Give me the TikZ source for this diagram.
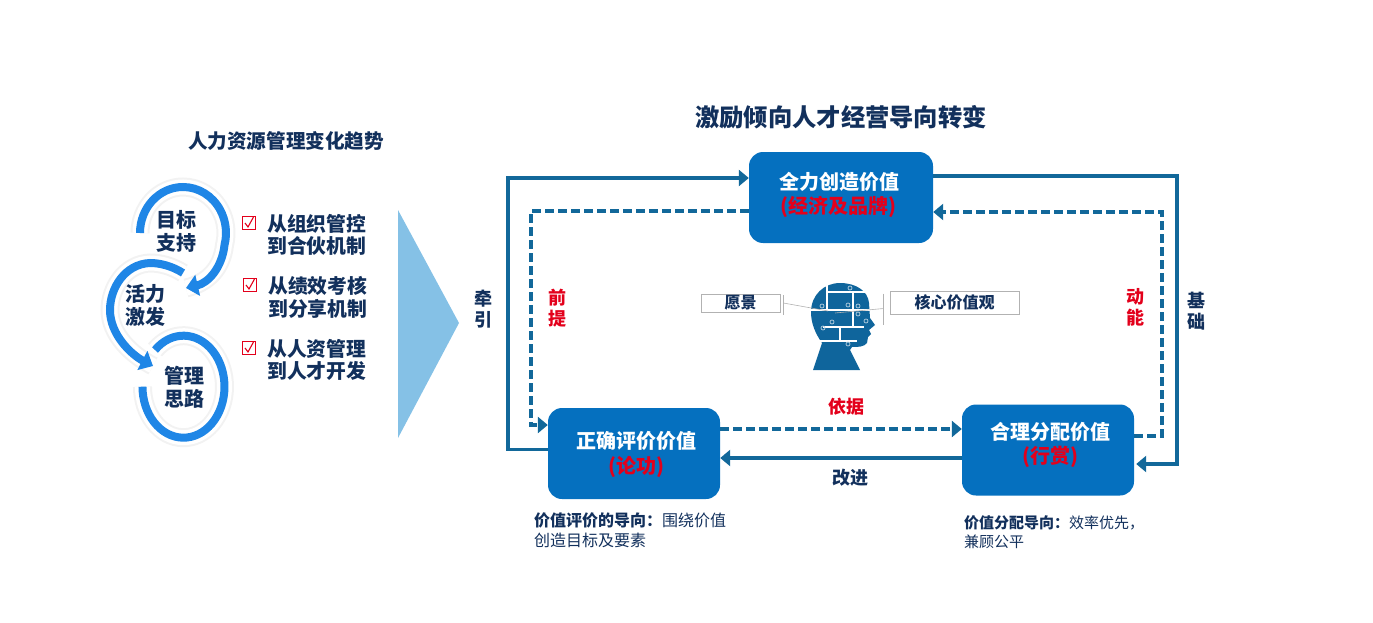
\documentclass[tikz,border=0pt]{standalone}
\usepackage{fontspec}
\setmainfont{Noto Sans CJK SC}
\usetikzlibrary{arrows.meta}
\definecolor{navy}{HTML}{12305C}
\definecolor{linkblue}{HTML}{12689A}
\definecolor{boxblue}{HTML}{0570BF}
\definecolor{ringblue}{HTML}{1F86E6}
\definecolor{keyred}{HTML}{E3001B}
\definecolor{tripale}{HTML}{85C1E6}
\definecolor{headblue}{HTML}{0F659C}
\newcommand{\fs}[1]{\fontsize{#1}{#1}\selectfont}
\tikzset{
    valuebox/.style={fill=boxblue,rounded corners=14pt,minimum width=172pt,minimum height=91pt,inner sep=0pt},
    valuetext/.style={text=white,font=\fs{20}\bfseries,align=center,inner sep=0pt},
    heading/.style={text=navy,font=\bfseries,inner sep=0pt},
    ringlabel/.style={text=navy,font=\fs{20}\bfseries,align=center,inner sep=0pt},
    tick/.style={draw=keyred,line width=0.9pt,minimum size=13pt,inner sep=0pt},
    trend/.style={text=navy,font=\fs{19.8}\bfseries,align=left,inner sep=0pt,anchor=west},
    vlabel/.style={font=\fs{18}\bfseries,align=center,inner sep=0pt},
    note/.style={text=navy,font=\fs{16},align=left,inner sep=0pt,anchor=north west},
    tag/.style={draw=black!30,line width=0.7pt,text=navy,font=\fs{16}\bfseries,inner sep=0pt},
    leader/.style={draw=black!30,line width=0.6pt},
    solidlink/.style={draw=linkblue,line width=3.2pt,-{Triangle[length=10pt,width=16pt]}},
    dashlink/.style={solidlink,dash pattern=on 9pt off 4pt},
    halo/.style={draw=black!5,line width=19pt},
    haloin/.style={draw=white,line width=15pt},
    ring/.style={draw=ringblue,line width=8pt},
}
\begin{document}
\begin{tikzpicture}[x=1pt,y=-1pt]
    \useasboundingbox (0,0) rectangle (1373,623);
    % left titles
    \node[heading,font=\fs{19.6}\bfseries] (lefttitle) at (286,141) {人力资源管理变化趋势};
    \node[heading,font=\fs{24.3}\bfseries] (righttitle) at (841,117) {激励倾向人才经营导向转变};
    % rings
    \foreach \style in {halo,haloin}
        \draw[\style] (140,233) arc[start angle=180,end angle=375,x radius=43,y radius=46] .. controls (222,268) and (208,283) .. (186,288);
    \draw[ring,-{Triangle[length=12pt,width=21pt]}] (140,233) arc[start angle=180,end angle=375,x radius=43,y radius=46] .. controls (222,268) and (208,283) .. (186,288);
    \foreach \style in {halo,haloin}
        \draw[\style] (183,273) .. controls (172,266) and (160,263) .. (150,263) .. controls (125,264) and (110,288) .. (110,310) .. controls (110,335) and (132,355) .. (153,366);
    \draw[ring,-{Triangle[length=12pt,width=21pt]}] (183,273) .. controls (172,266) and (160,263) .. (150,263) .. controls (125,264) and (110,288) .. (110,310) .. controls (110,335) and (132,355) .. (153,366);
    \foreach \style in {halo,haloin,ring}
        \draw[\style] (155,350) arc[start angle=-134,end angle=180,x radius=41,y radius=51];
    \node[ringlabel] (goal) at (176,231) {目标\\[3pt]支持};
    \node[ringlabel] (vigor) at (145,305) {活力\\[3pt]激发};
    \node[ringlabel] (mind) at (184,387) {管理\\[3pt]思路};
    % trend list
    \node[tick] (tick1) at (248.5,223) {};
    \node[tick] (tick2) at (249.5,285) {};
    \node[tick] (tick3) at (248.5,348) {};
    \foreach \n in {1,2,3}
        \draw[keyred,line width=1.1pt] ([shift={(-3.5pt,0pt)}]tick\n.center) -- ([shift={(-0.5pt,-4pt)}]tick\n.center) -- ([shift={(5pt,6pt)}]tick\n.center);
    \node[trend] (trend1) at (267,235) {从组织管控\\[3pt]到合伙机制};
    \node[trend] (trend2) at (268,297) {从绩效考核\\[3pt]到分享机制};
    \node[trend] (trend3) at (267,360) {从人资管理\\[3pt]到人才开发};
    % big arrow
    \fill[tripale] (398,210) -- (459,323) -- (398,438) -- cycle;
    % value boxes
    \node[valuebox,minimum width=184pt] (create) at (841,197.5) {};
    \node[valuebox] (assess) at (634,453.5) {};
    \node[valuebox] (share) at (1048,450) {};
    \node[valuetext] (createtext) at (839,195) {全力创造价值\\[4.5pt]\textcolor{keyred}{(经济及品牌)\kern1pt}};
    \node[valuetext] (assesstext) at (636,454.5) {正确评价价值\\[4.5pt]\textcolor{keyred}{(论功)}};
    \node[valuetext] (sharetext) at (1050,445) {合理分配价值\\[4.5pt]\textcolor{keyred}{(行赏)}};
    % links
    \draw[solidlink] ([yshift=4pt]assess.west) -- (508,449.5) -- (508,178) -- ([yshift=19.5pt]create.west);
    \draw[dashlink] ([yshift=-13.5pt]create.west) -- (531,211) -- (531,425) -- ([yshift=28.5pt]assess.west);
    \draw[solidlink] ([yshift=21.5pt]create.east) -- (1177,176) -- (1177,464) -- ([yshift=-14pt,xshift=2pt]share.east);
    \draw[dashlink] ([yshift=14pt]share.east) -- (1162,436) -- (1162,212) -- ([yshift=-14.5pt]create.east);
    \draw[dashlink] ([yshift=24.5pt]assess.east) -- ([yshift=21pt]share.west);
    \draw[solidlink] ([yshift=-8pt]share.west) -- ([yshift=-4.5pt]assess.east);
    % link labels
    \node[vlabel,text=navy] (pull) at (483,309) {牵\\[3pt]引};
    \node[vlabel,text=keyred] (premise) at (557,308) {前\\[3pt]提};
    \node[vlabel,text=keyred] (power) at (1135,307) {动\\[3pt]能};
    \node[vlabel,text=navy] (base) at (1196,311) {基\\[3pt]础};
    \node[vlabel,text=keyred] (basis) at (846,407) {依据};
    \node[vlabel,text=navy] (improve) at (850,478) {改进};
    % notes
    \node[note] (assessnote) at (534,513) {\textbf{价值评价的导向：}围绕价值\\[4pt]创造目标及要素};
    \node[note,font=\fs{15}] (sharenote) at (964,515) {\textbf{价值分配导向：}效率优先，\\[4pt]兼顾公平};
    % head
    \fill[headblue] (813,370) -- (822,343) .. controls (815,333) and (811,323) .. (811,312) .. controls (811,295) and (824,283) .. (840,283) .. controls (856,283) and (868,291) .. (869,303) -- (870,318) -- (875,325) -- (869,330) -- (871,334) -- (868,337) -- (867,343) .. controls (864,347) and (858,347) .. (852,347) -- (850,350) -- (860,370) -- cycle;
    \draw[white,line width=2.4pt] (827,282) -- (827,310) (827,292) -- (866,292) (853,292) -- (853,327) (810,310) -- (872,310) (823,327) -- (864,327) (840,327) -- (840,341) (820,341) -- (857,341);
    \foreach \p in {(822,306),(848,305),(858,306),(858,314),(866,321),(832,322),(823,328),(850,288),(848,344)}
        \draw[white!70!headblue,line width=0.7pt] \p circle (2pt);
    % tags
    \node[tag,minimum width=79pt,minimum height=18pt] (vision) at (740.5,303) {愿景};
    \node[tag,minimum width=129pt,minimum height=23pt] (core) at (954.5,302.5) {核心价值观};
    \coordinate (visionend) at (828,311);
    \coordinate (coreend) at (835,313);
    \draw[leader] ([xshift=3pt]vision.east) -- (visionend);
    \draw[leader] ([xshift=-6pt,yshift=-6pt]core.west) -- (coreend);
    \draw[leader] ([xshift=3pt,yshift=8pt]vision.east) -- ([xshift=3pt,yshift=-12pt]vision.east);
    \draw[leader] ([xshift=-6pt,yshift=9pt]core.west) -- ([xshift=-6pt,yshift=-22pt]core.west);
\end{tikzpicture}
\end{document}
